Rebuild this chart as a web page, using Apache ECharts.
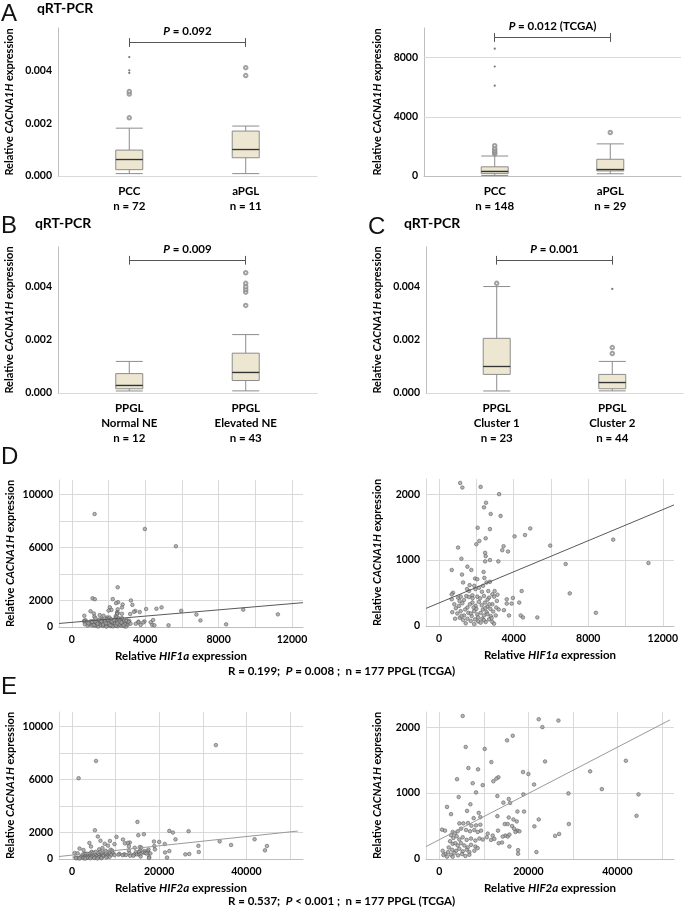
<!DOCTYPE html>
<html>
<head>
<meta charset="utf-8">
<script src="https://cdn.jsdelivr.net/npm/echarts@6/dist/echarts.min.js"></script>
<style>
  html, body { margin: 0; padding: 0; background: #fff; }
  #chart { width: 688px; height: 912px; }
</style>
</head>
<body>
<div id="chart"></div>
<script>
// ---- A (left): qRT-PCR, PCC vs aPGL ----  box = [min, Q1, median, Q3, max]
const qpcrTumorCats = ['PCC\nn = 72', 'aPGL\nn = 11'];
const qpcrTumorBox = [
  [0.00009, 0.00024, 0.00062, 0.00098, 0.00181],
  [0.00009, 0.00069, 0.00100, 0.00170, 0.00189]
];
const qpcrTumorOutliers = [[0, 0.0022], [0, 0.0031], [0, 0.0032], [1, 0.0038], [1, 0.0041]];
const qpcrTumorExtremes = [[0, 0.0039], [0, 0.0040], [0, 0.0045]];

// ---- A (right): TCGA, PCC vs aPGL ----
const tcgaTumorCats = ['PCC\nn = 148', 'aPGL\nn = 29'];
const tcgaTumorBox = [
  [30, 160, 320, 620, 1350],
  [150, 340, 430, 1130, 2170]
];
const tcgaTumorOutliers = [[0, 1500], [0, 1600], [0, 1720], [0, 1850], [0, 2050], [1, 2940]];
const tcgaTumorExtremes = [[0, 6100], [0, 7400], [0, 8600]];

// ---- B: normal vs elevated NE ----
const neCats = ['PPGL\nNormal NE\nn = 12', 'PPGL\nElevated NE\nn = 43'];
const neBox = [
  [0.000076, 0.00016, 0.00029, 0.00073, 0.00119],
  [0.00008, 0.00047, 0.00078, 0.00150, 0.00220]
];
const neOutliers = [[1, 0.0033], [1, 0.0038], [1, 0.0039], [1, 0.0040], [1, 0.00413], [1, 0.00453]];
const neExtremes = [];

// ---- C: cluster 1 vs cluster 2 ----
const clusterCats = ['PPGL\nCluster 1\nn = 23', 'PPGL\nCluster 2\nn = 44'];
const clusterBox = [
  [0.000076, 0.00070, 0.00100, 0.00206, 0.00401],
  [0.00008, 0.00016, 0.00039, 0.00070, 0.00119]
];
const clusterOutliers = [[0, 0.00413], [1, 0.00149], [1, 0.00171]];
const clusterExtremes = [[1, 0.00392]];

// ---- D: HIF1a vs CACNA1H (TCGA) ----
const hif1aPoints = [
  [1130,2170],[1250,2100],[2230,2110],[3220,2000],[2520,1870],[2410,1800],[2770,1700],[3300,1670],
  [2070,1490],[2730,1470],[4890,1480],[4610,1380],[4050,1360],[2500,1330],[2160,1290],[2000,1240],
  [1020,1190],[3460,1210],[3390,1150],[3700,1130],[5960,1220],[2470,1110],[2500,1060],[1200,1020],
  [2470,980],[2730,1000],[3180,980],[680,850],[1520,900],[1730,850],[1230,780],[2390,820],
  [1930,720],[2050,710],[2430,730],[1290,660],[2550,660],[2730,670],[1640,620],[1890,610],
  [2140,580],[2360,610],[2640,530],[2860,480],[2980,530],[3130,475],[750,505],[680,480],
  [1610,530],[1460,455],[1020,430],[1160,445],[1340,395],[680,405],[1790,465],[2050,445],
  [2410,455],[2680,430],[2950,445],[4430,530],[3960,425],[3630,405],[3630,340],[3890,340],
  [4300,355],[820,330],[1070,305],[1250,345],[1520,280],[1790,355],[1960,305],[2140,365],
  [2290,315],[2460,355],[2590,295],[2860,330],[3070,280],[3480,240],[710,210],[980,190],
  [1160,225],[1340,160],[1570,200],[1750,150],[1880,225],[2050,175],[2230,200],[2410,160],
  [2550,210],[2770,150],[3040,160],[3750,160],[4380,160],[4500,130],[5270,130],[860,110],
  [1110,125],[1290,90],[1520,110],[1700,75],[1930,100],[2110,70],[2320,110],[2500,60],
  [2680,100],[2860,60],[1430,40],[1880,30],[2230,50],[2950,35],[1400,250],[1650,330],
  [2000,260],[2200,420],[2350,250],[2600,180],[2750,260],[1100,380],[1800,420],[2900,220],
  [1500,560],[2300,520],[1950,560],[2600,400],[1200,150],[2400,90],[3100,380],[1700,190],
  [2100,130],[2700,330],[3200,250],[900,270],[2480,270],[2820,120],[1600,440],[1850,280],
  [6790,940],[7010,495],[8410,200],[9340,1310],[11230,955],
  [1240,8530],[3980,7400],[5670,6100],[2500,3000]
];
const hif1aTrend = [[-700, 267], [12600, 1837]];

// ---- E: HIF2a vs CACNA1H (TCGA) ----
const hif2aPoints = [
  [5240,2170],[22320,2120],[23140,2000],[16480,1870],[15210,1800],[5920,1700],[10190,1670],[11680,1470],
  [23740,1480],[6520,1380],[8690,1360],[18800,1320],[20000,1290],[3970,1210],[13260,1240],[12810,1220],
  [12130,1180],[7490,1150],[9740,1120],[21270,1130],[8240,1010],[18870,980],[4340,940],[13030,955],
  [15580,910],[14380,855],[15880,850],[1720,790],[6970,830],[2620,680],[6220,730],[17530,720],
  [19020,720],[8840,700],[7710,620],[9210,635],[13030,650],[15580,630],[16630,600],[17380,570],
  [22320,600],[4490,540],[5390,540],[6440,545],[7190,505],[8240,510],[9210,520],[14680,530],
  [15350,530],[16330,500],[16780,460],[17530,430],[17980,420],[21340,495],[600,445],[1270,430],
  [2990,410],[3450,390],[4120,420],[4870,460],[5990,440],[6890,420],[7860,440],[8620,410],
  [9360,430],[10860,385],[11980,355],[13180,430],[14830,355],[15360,340],[14230,340],[15730,370],
  [17080,410],[2620,360],[3150,320],[3890,345],[4490,295],[5240,330],[6140,290],[7110,310],
  [8090,280],[8990,310],[9740,295],[10640,330],[11610,290],[12360,305],[13330,240],[14080,250],
  [15730,190],[17680,135],[17680,80],[21800,105],[2400,270],[2990,230],[3600,240],[4120,205],
  [4870,240],[5620,205],[6370,175],[7110,215],[8090,190],[8610,165],[2100,175],[2850,140],
  [3750,125],[4490,155],[5240,115],[6140,140],[6740,105],[7860,125],[750,125],[1350,75],
  [1950,105],[2620,65],[3370,90],[4190,55],[5090,75],[5840,45],[6740,65],[900,60],
  [1720,35],[2990,35],[26740,2100],[33870,1330],[41890,1490],[36490,1060],[28990,995],[44720,980],
  [44270,655],[29080,530],[26000,350],[26900,380],
  [33000,8600],[5500,7400],[1500,6100],[15000,2800]
];
const hif2aTrend = [[-3000, 188], [51800, 2110]];

const FONT = 'Lato, "Liberation Sans", sans-serif';
const TXT = '#000';
const GRIDC = '#d9d9d9';
const AXISC = '#bfbfbf';
const BOX_PX = 27;

const grids = [];
const xAxes = [];
const yAxes = [];
const series = [];

function yAxisName(gap) {
  return {
    name: 'Relative {i|CACNA1H} expression',
    nameLocation: 'middle',
    nameGap: gap,
    nameTextStyle: {
      fontFamily: FONT, fontSize: 11, fontWeight: 'bold', color: TXT,
      rich: { i: { fontFamily: FONT, fontSize: 11, fontWeight: 'bold', fontStyle: 'italic', color: TXT } }
    }
  };
}

function addBoxPanel(p) {
  const gi = grids.length;
  const xMin = -0.612, xMax = 1.612;
  grids.push({ left: p.left, top: p.top, width: p.width, height: p.height });
  xAxes.push({
    gridIndex: gi, type: 'value', min: xMin, max: xMax,
    axisLine: { onZero: false, lineStyle: { color: AXISC } },
    axisTick: { show: false }, splitLine: { show: false },
    axisLabel: {
      customValues: [0, 1], formatter: v => p.cats[Math.round(v)],
      margin: 8, fontFamily: FONT, fontSize: 11.5, fontWeight: 'bold', color: TXT, lineHeight: 15
    }
  });
  yAxes.push(Object.assign({
    gridIndex: gi, type: 'value', min: 0, max: p.yMax,
    axisLine: { show: true, onZero: false, lineStyle: { color: AXISC } },
    axisTick: { show: false }, splitLine: { show: false },
    axisLabel: {
      customValues: p.yTicks, formatter: p.fmt,
      margin: 6, fontFamily: FONT, fontSize: 10.5, fontWeight: 'bold', color: TXT
    }
  }, yAxisName(p.nameGap)));

  series.push({
    type: 'boxplot', xAxisIndex: gi, yAxisIndex: gi, silent: true, z: 3,
    boxWidth: [BOX_PX, BOX_PX],
    data: p.box.map((b, i) => [i].concat(b)),
    itemStyle: { color: '#ede7d1', borderColor: '#8c8c8c', borderWidth: 1 }
  });
  series.push({
    type: 'scatter', xAxisIndex: gi, yAxisIndex: gi, silent: true, z: 5,
    data: p.outliers, symbol: 'emptyCircle', symbolSize: 3.5,
    itemStyle: { color: '#8a8a8a', borderWidth: 0.9 },
    markLine: {
      silent: true, symbol: 'none', z: 1, label: { show: false },
      lineStyle: { color: GRIDC, width: 1, type: 'solid' },
      data: p.yGrid.map(v => ({ yAxis: v }))
    }
  });
  const d = p.yMax * 0.03;
  const half = BOX_PX / 2 / (p.width / (xMax - xMin));
  const medians = p.box.map((b, i) => [
    { coord: [i - half, b[2]], lineStyle: { color: '#333', width: 1.3 } },
    { coord: [i + half, b[2]] }
  ]);
  series.push({
    type: 'scatter', xAxisIndex: gi, yAxisIndex: gi, silent: true, z: 5,
    data: p.extremes, symbol: 'circle', symbolSize: 2.2,
    itemStyle: { color: '#555' },
    markLine: {
      silent: true, symbol: 'none', z: 5, label: { show: false },
      lineStyle: { color: '#555', width: 1, type: 'solid' },
      data: [
        [{
          coord: [0, p.bracket],
          label: {
            show: true, position: 'middle', distance: 5, formatter: p.pText,
            fontFamily: FONT, fontSize: 11.5, fontWeight: 'bold', color: TXT,
            rich: { i: { fontFamily: FONT, fontSize: 11.5, fontWeight: 'bold', fontStyle: 'italic', color: TXT } }
          }
        }, { coord: [1, p.bracket] }],
        [{ coord: [0, p.bracket - d] }, { coord: [0, p.bracket + d] }],
        [{ coord: [1, p.bracket - d] }, { coord: [1, p.bracket + d] }]
      ].concat(medians)
    }
  });
}

function addScatterPanel(p) {
  const gi = grids.length;
  grids.push({ left: p.left, top: p.top, width: p.width, height: p.height });
  xAxes.push({
    gridIndex: gi, type: 'value', min: p.xMin, max: p.xMax,
    axisLine: { onZero: false, lineStyle: { color: AXISC } },
    axisTick: { show: false }, splitLine: { show: false },
    axisLabel: { customValues: p.xTicks, formatter: v => String(v), margin: 7,
      fontFamily: FONT, fontSize: 10.5, fontWeight: 'bold', color: TXT },
    name: 'Relative {i|' + p.gene + '} expression',
    nameLocation: 'middle', nameGap: 23,
    nameTextStyle: {
      fontFamily: FONT, fontSize: 11.5, fontWeight: 'bold', color: TXT,
      rich: { i: { fontFamily: FONT, fontSize: 11.5, fontWeight: 'bold', fontStyle: 'italic', color: TXT } }
    }
  });
  yAxes.push(Object.assign({
    gridIndex: gi, type: 'value', min: 0, max: p.yMax,
    axisLine: { show: true, onZero: false, lineStyle: { color: GRIDC } },
    axisTick: { show: false }, splitLine: { show: false },
    axisLabel: { customValues: p.yTicks, formatter: v => String(v), margin: 6,
      fontFamily: FONT, fontSize: 10.5, fontWeight: 'bold', color: TXT }
  }, yAxisName(43)));
  series.push({
    type: 'scatter', xAxisIndex: gi, yAxisIndex: gi, silent: true, z: 3, clip: true,
    data: p.points, symbolSize: 3.6,
    itemStyle: { color: '#a3a3a3', borderColor: '#555', borderWidth: 0.7 },
    markLine: {
      silent: true, symbol: 'none', z: 1, label: { show: false },
      lineStyle: { color: GRIDC, width: 1, type: 'solid' },
      data: p.xGrid.map(v => ({ xAxis: v })).concat(p.yGrid.map(v => ({ yAxis: v })))
    }
  });
  series.push({
    type: 'line', xAxisIndex: gi, yAxisIndex: gi, silent: true, z: 4, clip: true,
    data: p.trend, showSymbol: false,
    lineStyle: { color: p.trendColor, width: 1 }
  });
}

const fmt3 = v => v.toFixed(3);
const fmtInt = v => String(Math.round(v));

addBoxPanel({ left: 58, top: 28, width: 259, height: 148, cats: qpcrTumorCats, box: qpcrTumorBox,
  outliers: qpcrTumorOutliers, extremes: qpcrTumorExtremes, yMax: 0.0056, yTicks: [0, 0.002, 0.004],
  yGrid: [0.002, 0.004], fmt: fmt3, bracket: 0.00505, pText: '{i|P} = 0.092', nameGap: 43 });
addBoxPanel({ left: 424, top: 28, width: 257, height: 148, cats: tcgaTumorCats, box: tcgaTumorBox,
  outliers: tcgaTumorOutliers, extremes: tcgaTumorExtremes, yMax: 10000, yTicks: [0, 4000, 8000],
  yGrid: [4000, 8000], fmt: fmtInt, bracket: 9360, pText: '{i|P} = 0.012 (TCGA)', nameGap: 41 });
addBoxPanel({ left: 58, top: 247, width: 259, height: 146, cats: neCats, box: neBox,
  outliers: neOutliers, extremes: neExtremes, yMax: 0.0055, yTicks: [0, 0.002, 0.004],
  yGrid: [0.002, 0.004], fmt: fmt3, bracket: 0.0050, pText: '{i|P} = 0.009', nameGap: 43 });
addBoxPanel({ left: 426, top: 247, width: 257, height: 146, cats: clusterCats, box: clusterBox,
  outliers: clusterOutliers, extremes: clusterExtremes, yMax: 0.0055, yTicks: [0, 0.002, 0.004],
  yGrid: [0.002, 0.004], fmt: fmt3, bracket: 0.0050, pText: '{i|P} = 0.001', nameGap: 43 });

addScatterPanel({ left: 59, top: 480, width: 244, height: 147, gene: 'HIF1a', points: hif1aPoints,
  trend: hif1aTrend, trendColor: '#595959', xMin: -700, xMax: 12600, xTicks: [0, 4000, 8000, 12000],
  xGrid: [0, 2000, 4000, 6000, 8000, 10000, 12000], yMax: 11100, yTicks: [0, 2000, 6000, 10000],
  yGrid: [2000, 4000, 6000, 8000, 10000] });
addScatterPanel({ left: 426, top: 479, width: 248, height: 147, gene: 'HIF1a', points: hif1aPoints,
  trend: hif1aTrend, trendColor: '#595959', xMin: -700, xMax: 12600, xTicks: [0, 4000, 8000, 12000],
  xGrid: [0, 2000, 4000, 6000, 8000, 10000, 12000], yMax: 2230, yTicks: [0, 1000, 2000],
  yGrid: [1000, 2000] });
addScatterPanel({ left: 59, top: 712, width: 244, height: 147, gene: 'HIF2a', points: hif2aPoints,
  trend: hif2aTrend, trendColor: '#9a9a9a', xMin: -3000, xMax: 53000, xTicks: [0, 20000, 40000],
  xGrid: [0, 10000, 20000, 30000, 40000, 50000], yMax: 11100, yTicks: [0, 2000, 6000, 10000],
  yGrid: [2000, 4000, 6000, 8000, 10000] });
addScatterPanel({ left: 426, top: 712, width: 248, height: 147, gene: 'HIF2a', points: hif2aPoints,
  trend: hif2aTrend, trendColor: '#9a9a9a', xMin: -3000, xMax: 52700, xTicks: [0, 20000, 40000],
  xGrid: [0, 10000, 20000, 30000, 40000, 50000], yMax: 2230, yTicks: [0, 1000, 2000],
  yGrid: [1000, 2000] });

function letter(t, x, y) {
  return { type: 'text', left: x, top: y, silent: true,
    style: { text: t, fontFamily: '"Liberation Sans", Arial, sans-serif', fontSize: 24, fill: '#111' } };
}
function heading(t, x, y) {
  return { type: 'text', left: x, top: y, silent: true,
    style: { text: t, fontFamily: FONT, fontSize: 14, fontWeight: 'bold', fill: TXT } };
}
function stats(t, x, y) {
  return { type: 'text', left: x, top: y, silent: true,
    style: { text: t, fontFamily: FONT, fontSize: 11.5, fontWeight: 'bold', fill: TXT,
      rich: { i: { fontFamily: FONT, fontSize: 11.5, fontWeight: 'bold', fontStyle: 'italic', fill: TXT } } } };
}

const chart = echarts.init(document.getElementById('chart'));
chart.setOption({
  animation: false,
  backgroundColor: '#fff',
  grid: grids,
  xAxis: xAxes,
  yAxis: yAxes,
  series: series,
  graphic: [
    letter('A', 1, 2), heading('qRT-PCR', 37, 1),
    letter('B', 1, 214), heading('qRT-PCR', 35, 216),
    letter('C', 368, 215), heading('qRT-PCR', 404, 216),
    letter('D', 1, 445),
    letter('E', 1, 675),
    stats('R = 0.199;  {i|P} = 0.008 ;  n = 177 PPGL (TCGA)', 228, 665),
    stats('R = 0.537;  {i|P} < 0.001 ;  n = 177 PPGL (TCGA)', 228, 895)
  ]
});
</script>
</body>
</html>
